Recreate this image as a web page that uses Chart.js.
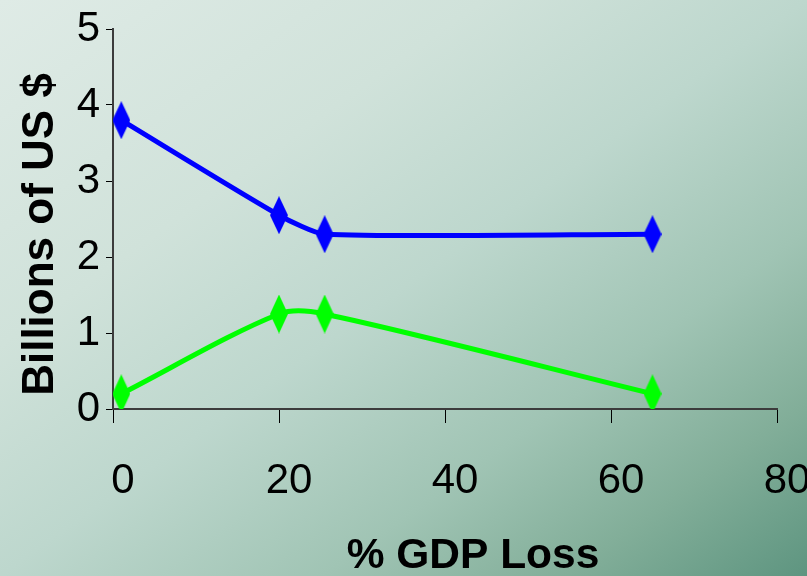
<!DOCTYPE html>
<html>
<head>
<meta charset="utf-8">
<script src="https://cdn.jsdelivr.net/npm/chart.js@4/dist/chart.umd.min.js"></script>
<style>
  html, body { margin: 0; padding: 0; overflow: hidden; }
  #wrap {
    position: relative;
    width: 807px;
    height: 576px;
    overflow: hidden;
    background: linear-gradient(to bottom right, #dfebe6 0%, #d0e2da 30%, #bdd7cd 50%, #a0c4b4 70%, #82ae99 85%, #5e9580 100%);
  }
  canvas { display: block; }
</style>
</head>
<body>
<div id="wrap"><canvas id="chart" width="807" height="576"></canvas></div>
<script>
// % GDP loss (x) and billions of US $ (y) for each series
const gdpLossBlue = [1, 20, 25.5, 65];
const valuesBlue  = [3.8, 2.55, 2.3, 2.3];
const gdpLossGreen = [1, 20, 25.5, 65];
const valuesGreen  = [0.2, 1.25, 1.25, 0.2];

const xTitle = '% GDP Loss';
const yTitle = 'Billions of US $';

const FONT = '"Liberation Sans", Arial, Helvetica, sans-serif';

// Tall narrow diamond used as the point marker
function diamond(color, w, h) {
  const c = document.createElement('canvas');
  c.width = w; c.height = h;
  const g = c.getContext('2d');
  g.fillStyle = color;
  g.beginPath();
  g.moveTo(w / 2, 0);
  g.lineTo(w, h / 2);
  g.lineTo(w / 2, h);
  g.lineTo(0, h / 2);
  g.closePath();
  g.fill();
  return c;
}

function toPoints(xs, ys) {
  return xs.map((x, i) => ({ x: x, y: ys[i] }));
}

// Axis titles placed at fixed spots around the plot
const axisTitles = {
  id: 'axisTitles',
  afterDraw(chart) {
    const ctx = chart.ctx;
    ctx.save();
    ctx.fillStyle = '#000';
    ctx.textAlign = 'center';
    ctx.textBaseline = 'alphabetic';
    ctx.font = 'bold 42.5px ' + FONT;
    ctx.fillText(xTitle, 473, 568);
    ctx.translate(53, 234.5);
    ctx.rotate(-Math.PI / 2);
    ctx.font = 'bold 44px ' + FONT;
    ctx.fillText(yTitle, 0, 0);
    ctx.restore();
  }
};

new Chart(document.getElementById('chart'), {
  type: 'line',
  data: {
    datasets: [
      {
        data: toPoints(gdpLossBlue, valuesBlue),
        borderColor: '#0000ff',
        backgroundColor: '#0000ff',
        borderWidth: 5,
        tension: 0.2,
        pointStyle: diamond('#0000ff', 18, 38),
        pointRadius: 10,
        fill: false
      },
      {
        data: toPoints(gdpLossGreen, valuesGreen),
        borderColor: '#00ff00',
        backgroundColor: '#00ff00',
        borderWidth: 5,
        tension: 0.3,
        pointStyle: diamond('#00ff00', 18, 39),
        pointRadius: 10,
        fill: false
      }
    ]
  },
  options: {
    responsive: false,
    animation: false,
    layout: { padding: { left: 0, top: 29, right: 30, bottom: 0 } },
    plugins: { legend: { display: false }, tooltip: { enabled: false } },
    scales: {
      x: {
        type: 'linear',
        min: 0,
        max: 80,
        afterFit: s => { s.height = 167; s.paddingRight = 0; s.paddingLeft = 0; },
        ticks: {
          stepSize: 20,
          color: '#000',
          font: { family: FONT, size: 42 },
          padding: 33,
          labelOffset: 10,
          maxRotation: 0
        },
        grid: { drawOnChartArea: false, drawTicks: true, tickLength: 14, color: '#000', lineWidth: 1 },
        border: { color: '#3c3c3c', width: 2 }
      },
      y: {
        type: 'linear',
        min: 0,
        max: 5,
        afterFit: s => { s.width = 113; s.paddingTop = 0; s.paddingBottom = 0; },
        ticks: {
          stepSize: 1,
          color: '#000',
          font: { family: FONT, size: 42 },
          padding: 6
        },
        grid: { drawOnChartArea: false, drawTicks: true, tickLength: 7, color: '#000', lineWidth: 1 },
        border: { color: '#3c3c3c', width: 2 }
      }
    }
  },
  plugins: [axisTitles]
});
</script>
</body>
</html>
